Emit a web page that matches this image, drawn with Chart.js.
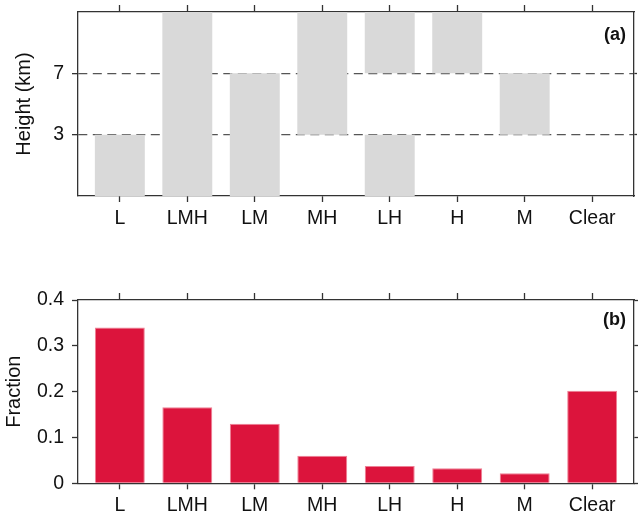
<!DOCTYPE html>
<html>
<head>
<meta charset="utf-8">
<script src="https://cdn.jsdelivr.net/npm/chart.js@4.4.0/dist/chart.umd.min.js"></script>
<style>
  body { margin: 0; background: #fff; }
  canvas { position: absolute; left: 0; }
  #cloudChart { top: 0; }
  #fractionChart { top: 250px; }
</style>
</head>
<body>
<canvas id="cloudChart" width="638" height="250"></canvas>
<canvas id="fractionChart" width="638" height="267"></canvas>
<script>
// cloud layer combinations
var categories = ['L', 'LMH', 'LM', 'MH', 'LH', 'H', 'M', 'Clear'];
// layer boundaries shown on panel (a)
var heightTicks = ['3', '7'];
// bands filled in panel (a): 0-1 low (<3 km), 1-2 middle (3-7 km), 2-3 high (>7 km)
var layerSpan = [[0, 1], [0, 3], [0, 2], [1, 3], [0, 1], [2, 3], [1, 2], null];
var layerSpanUpper = [null, null, null, null, [2, 3], null, null, null];
// fraction of occurrence, panel (b)
var fraction = [0.34, 0.166, 0.13, 0.06, 0.038, 0.033, 0.022, 0.202];

var fontFamily = '"Liberation Sans", Arial, Helvetica, sans-serif';
var axisColor = '#333';
var tickFont = { family: fontFamily, size: 19.5 };

// panel letter in the upper right corner
var panelLabel = {
  id: 'panelLabel',
  afterDraw: function (chart, args, opts) {
    var ctx = chart.ctx, area = chart.chartArea;
    ctx.save();
    ctx.font = 'bold 18px ' + fontFamily;
    ctx.fillStyle = '#111';
    ctx.textAlign = 'right';
    ctx.textBaseline = 'middle';
    ctx.fillText(opts.text, area.right - 8, area.top + opts.dy);
    ctx.restore();
  }
};

function categoryTicks(scale) {
  scale.ticks = categories.map(function (c, i) { return { value: i + 1 }; });
}

// fixed axis width, no extra room asked for the end labels
function fixWidth(w) {
  return function (s) { s.width = w; s.paddingTop = 0; s.paddingBottom = 0; };
}

function xScales(bottomHeight, topHeight) {
  return {
    x: {
      type: 'linear', position: 'bottom', min: 0.38, max: 8.62, offset: false,
      afterBuildTicks: categoryTicks,
      afterFit: function (s) { s.height = bottomHeight; },
      ticks: {
        callback: function (v) { return categories[v - 1]; },
        font: tickFont, color: '#111', padding: 5, maxRotation: 0, autoSkip: false
      },
      grid: { offset: false, drawOnChartArea: false, tickLength: 6, color: axisColor, tickWidth: 1.3 },
      border: { color: axisColor, width: 1.3 }
    },
    xTop: {
      type: 'linear', position: 'top', min: 0.38, max: 8.62, offset: false,
      afterBuildTicks: categoryTicks,
      afterFit: function (s) { s.height = topHeight; },
      ticks: { callback: function () { return ''; }, padding: 0, autoSkip: false },
      grid: { offset: false, drawOnChartArea: false, tickLength: 7, color: axisColor, tickWidth: 1.3 },
      border: { color: axisColor, width: 1.3 }
    }
  };
}

// (a) cloud layer heights
var cloudScales = xScales(54, 12);
cloudScales.y = {
  position: 'left', min: 0, max: 3, z: 1,
  afterBuildTicks: function (s) { s.ticks = [{ value: 1 }, { value: 2 }]; },
  afterFit: fixWidth(78),
  ticks: {
    callback: function (v) { return heightTicks[v - 1]; },
    font: tickFont, color: '#111', padding: 8
  },
  grid: { color: '#555', lineWidth: 1.3, tickLength: 6, tickColor: axisColor, tickWidth: 1.3 },
  border: { color: axisColor, width: 1.3, dash: [9, 5.5] },
  title: {
    display: true, text: 'Height (km)', color: '#111',
    font: { family: fontFamily, size: 20 }, padding: { top: 12, bottom: 0 }
  }
};
cloudScales.y2 = {
  position: 'right', min: 0, max: 3,
  afterBuildTicks: function (s) { s.ticks = [{ value: 1 }, { value: 2 }]; },
  afterFit: fixWidth(4),
  ticks: { callback: function () { return ''; }, padding: 0 },
  grid: { drawOnChartArea: false, tickLength: 3, color: axisColor, tickWidth: 1.3 },
  border: { color: axisColor, width: 1.3 }
};

new Chart(document.getElementById('cloudChart'), {
  type: 'bar',
  data: {
    datasets: [{
      data: layerSpan.map(function (s, i) { return { x: i + 1, y: s }; }),
      backgroundColor: '#d9d9d9',
      grouped: false, barPercentage: 0.74, categoryPercentage: 1
    }, {
      data: layerSpanUpper.map(function (s, i) { return { x: i + 1, y: s }; }),
      backgroundColor: '#d9d9d9',
      grouped: false, barPercentage: 0.74, categoryPercentage: 1
    }]
  },
  options: {
    responsive: false,
    animation: false,
    layout: { padding: 0 },
    scales: cloudScales,
    plugins: {
      legend: { display: false },
      tooltip: { enabled: false },
      panelLabel: { text: '(a)', dy: 23 }
    }
  },
  plugins: [panelLabel]
});

// (b) fraction of each cloud type
var fractionScales = xScales(33.7, 50);
fractionScales.y = {
  position: 'left', min: 0, max: 0.4,
  ticks: {
    stepSize: 0.1, font: tickFont, color: '#111', padding: 8,
    callback: function (v) { return v === 0 ? '0' : v.toFixed(1); }
  },
  afterFit: fixWidth(78),
  grid: { drawOnChartArea: false, tickLength: 6, color: axisColor, tickWidth: 1.3 },
  border: { color: axisColor, width: 1.3 },
  title: {
    display: true, text: 'Fraction', color: '#111',
    font: { family: fontFamily, size: 20 }, padding: { top: 2, bottom: 0 }
  }
};
fractionScales.y2 = {
  position: 'right', min: 0, max: 0.4,
  ticks: { stepSize: 0.1, callback: function () { return ''; }, padding: 0 },
  afterFit: fixWidth(4),
  grid: { drawOnChartArea: false, tickLength: 5, color: axisColor, tickWidth: 1.3 },
  border: { color: axisColor, width: 1.3 }
};

new Chart(document.getElementById('fractionChart'), {
  type: 'bar',
  data: {
    datasets: [{
      data: fraction.map(function (f, i) { return { x: i + 1, y: f }; }),
      backgroundColor: '#dc143c',
      borderColor: '#ee8095',
      borderWidth: 1,
      barPercentage: 0.74, categoryPercentage: 1
    }]
  },
  options: {
    responsive: false,
    animation: false,
    layout: { padding: 0 },
    scales: fractionScales,
    plugins: {
      legend: { display: false },
      tooltip: { enabled: false },
      panelLabel: { text: '(b)', dy: 20 }
    }
  },
  plugins: [panelLabel]
});
</script>
</body>
</html>
